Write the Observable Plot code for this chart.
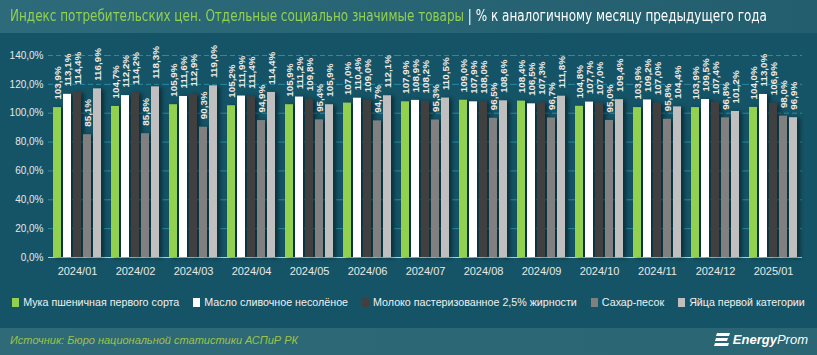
<!DOCTYPE html>
<html><head><meta charset="utf-8">
<script src="https://cdn.jsdelivr.net/npm/d3@7"></script>
<script src="https://cdn.jsdelivr.net/npm/@observablehq/plot@0.6"></script>
<style>
html,body{margin:0;padding:0;background:#145466;}
#wrap{position:relative;width:817px;height:355px;overflow:hidden;background:#145466;font-family:"Liberation Sans",Arial,sans-serif;}
#title{position:absolute;left:0;top:0;width:817px;height:33px;background:linear-gradient(90deg,#2e6b7a,#225e6e);}
#ttext{position:absolute;left:10px;top:7px;font-family:"DejaVu Sans Condensed",sans-serif;font-size:15px;white-space:nowrap;transform:scaleX(0.89);transform-origin:left center;}
#chart{position:absolute;left:0;top:33px;}
#chart svg g[aria-label="bar"]{filter:drop-shadow(3px 1px 2px rgba(0,0,0,0.45));}
#legend{position:absolute;left:0;top:296px;width:817px;display:flex;justify-content:center;gap:14px;color:#f0f0f0;font-size:10.7px;white-space:nowrap;}
#legend .it{display:flex;align-items:center;gap:4px;}
#legend .sw{width:7px;height:9px;display:inline-block;}
#footer{position:absolute;left:0;top:328px;width:817px;height:27px;background:linear-gradient(90deg,#2e6a78,#2a6573);}
#source{position:absolute;left:10px;top:6px;font-style:italic;color:#9fc346;font-size:11px;}
#logo{position:absolute;right:9px;top:4px;color:#fff;font-style:italic;font-size:13px;display:flex;align-items:center;gap:3px;}
</style></head>
<body><div id="wrap">
<div id="title"><div id="ttext"><span style="color:#92d050">Индекс потребительских цен. Отдельные социально значимые товары</span><span style="color:#fff"> | % к аналогичному месяцу предыдущего года</span></div></div>
<div id="chart"></div>
<div id="legend"></div>
<div id="footer"><div id="source">Источник: Бюро национальной статистики АСПиР РК</div>
<div id="logo"><svg width="16" height="14" viewBox="0 0 16 14"><path d="M3 0H16L15 3H2Z M2 5H14L13 8H1Z M1 10H15L14 13H0Z" fill="#fff"/></svg><span><b>Energy</b>Prom</span></div></div>
</div>
<script>
const months = ["2024/01","2024/02","2024/03","2024/04","2024/05","2024/06","2024/07","2024/08","2024/09","2024/10","2024/11","2024/12","2025/01"];
const series = ["Мука пшеничная первого сорта","Масло сливочное несолёное","Молоко пастеризованное 2,5% жирности","Сахар-песок","Яйца первой категории"];
const flour  = [103.9,104.7,105.9,105.2,105.9,107.0,107.9,109.0,108.4,104.8,103.9,103.9,104.0];
const butter = [113.1,112.2,111.6,111.9,111.2,110.4,108.9,107.9,106.5,107.7,109.2,109.5,113.0];
const milk   = [114.4,114.2,112.9,111.4,109.8,109.0,108.2,108.0,107.3,107.0,107.0,107.4,106.9];
const sugar  = [85.1,85.8,90.3,94.9,95.4,94.7,95.3,96.5,96.7,95.0,95.8,96.8,98.0];
const eggs   = [116.9,118.3,119.0,114.4,105.9,112.1,110.5,108.6,111.8,109.4,104.4,101.2,96.9];
const colors = ["#92d050","#ffffff","#404040","#808080","#bfbfbf"];
const yTicks = [0,20,40,60,80,100,120,140];

const seriesValues = [flour,butter,milk,sugar,eggs];
const data = [];
months.forEach((m,i)=>series.forEach((s,j)=>data.push({month:m,series:s,value:seriesValues[j][i]})));
const pct = v => v.toFixed(1).replace(".", ",") + "%";

const chart = Plot.plot({
  width: 817, height: 254,
  marginTop: 22, marginBottom: 30, marginLeft: 47, marginRight: 14,
  style: {background: "transparent", color: "#e8e8e8", fontFamily: "Liberation Sans, Arial, sans-serif", fontSize: "10px"},
  fx: {domain: months, padding: 0.1, label: null},
  x: {domain: series, paddingInner: 0.2, paddingOuter: 0, axis: null},
  y: {domain: [0,140], label: null},
  color: {domain: series, range: colors},
  marks: [
    Plot.ruleY(yTicks.filter(d=>d>0), {stroke: "#2a8aa3", strokeDasharray: "5,3", strokeWidth: 1, insetLeft: -3, insetRight: -3}),
    Plot.ruleY([0], {stroke: "#c8c8c8", strokeWidth: 1.2, insetLeft: -3, insetRight: -3}),
    Plot.axisY(yTicks, {tickSize: 0, tickPadding: 8, tickFormat: pct, fontSize: 10, fill: "#e8e8e8", label: null}),
    Plot.axisFx({anchor: "bottom", tickSize: 0, tickPadding: 10, fontSize: 11, fill: "#e8e8e8", label: null}),
    Plot.barY(data, {fx: "month", x: "series", y: "value", fill: "series"}),
    Plot.text(data, {fx: "month", x: "series", y: "value", text: d => pct(d.value), rotate: -90, textAnchor: "start", dy: -8, fill: "#ececec", fontSize: 9.8, fontWeight: "bold"})
  ]
});
document.getElementById("chart").appendChild(chart);

const legend = document.getElementById("legend");
series.forEach((s,j)=>{
  const it = document.createElement("div"); it.className="it";
  const sw = document.createElement("span"); sw.className="sw"; sw.style.background=colors[j];
  const t = document.createElement("span"); t.textContent = s;
  it.appendChild(sw); it.appendChild(t); legend.appendChild(it);
});
</script>
</body></html>
